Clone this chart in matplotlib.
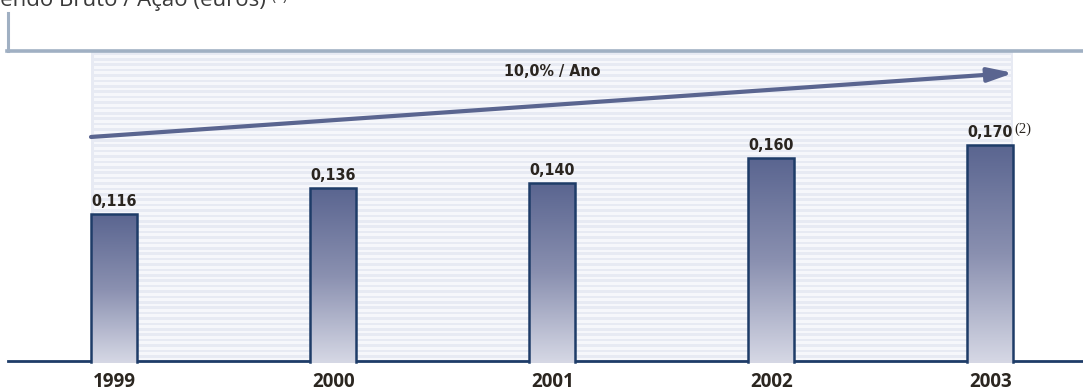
import matplotlib.pyplot as plt
import numpy as np

years = ['1999', '2000', '2001', '2002', '2003']
values = [0.116, 0.136, 0.140, 0.160, 0.170]
value_labels = ['0,116', '0,136', '0,140', '0,160', '0,170']
trend_label = '10,0% / Ano'
trend_start = 0.1764
trend_end = 0.2268
title = 'Dividendo Bruto / Ação (euros)'

navy = '#1e3c68'
slate = '#5a6590'
bar_font = ['DejaVu Sans']
year_font = ['Open Sans', 'DejaVu Sans']

fig = plt.figure(figsize=(10.83, 3.90), dpi=100)
ax = fig.add_axes([0, 0, 1, 1])
ax.set_xlim(-0.5203, 4.4224)
ax.set_ylim(-0.02283, 0.28425)
ax.axis('off')

x = np.arange(len(years))
bw = 0.21

# striped background behind the bars
stripe_top = 0.2433
x0, x1 = x[0] - bw / 2, x[-1] + bw / 2
ax.fill_between([x0, x1], 0, stripe_top, color='#e7eaf3', lw=0, zorder=0)
step = 5.4 / 1270
for y in np.arange(stripe_top - step * 0.6, 0, -step):
    ax.fill_between([x0 + 0.012, x1 - 0.012], y - step / 2, y, color='#f6f7fb', lw=0, zorder=0)

# baseline
ax.axhline(0, xmin=8 / 1083, xmax=1, color=navy, lw=2, zorder=1)

# bars with vertical gradient
bars = ax.bar(x, values, width=bw, color='none', edgecolor='none', zorder=2)
grad = np.linspace(0, 1, 256).reshape(-1, 1)
cmap = plt.matplotlib.colors.LinearSegmentedColormap.from_list('g', [slate, '#8a90b0', '#d6d8e5'])
for b in bars:
    bx, bh = b.get_x(), b.get_height()
    ax.imshow(grad, cmap=cmap, aspect='auto', extent=[bx, bx + bw, -0.0012, bh],
              origin='upper', zorder=3, interpolation='bilinear')
    ax.plot([bx, bx, bx + bw, bx + bw], [-0.0008, bh, bh, -0.0008], color=navy, lw=1.8,
            zorder=4, solid_joinstyle='miter')

# value labels
for xi, v, lab in zip(x, values, value_labels):
    t = ax.annotate(lab, (xi, v), xytext=(0, 3.5), textcoords='offset points',
                    ha='center', va='bottom', fontsize=11.5, fontweight='bold',
                    family=bar_font, fontstretch='condensed', color='#2a2520', zorder=5)
last = t
ax.annotate('(2)', xy=(1, 1), xycoords=last, xytext=(0.5, 2), textcoords='offset points',
            ha='left', va='top', fontsize=10.5, family=['Liberation Serif', 'DejaVu Serif'],
            color='#2a2520')

# year labels
for xi, yr in zip(x, years):
    ax.annotate(yr, (xi, 0), xytext=(0, -18.8), textcoords='offset points', ha='center',
                va='baseline', fontsize=13.5, fontweight='bold', family=year_font, color='#2b2620')

# trend arrow
ax.annotate('', xy=(x1, trend_end), xytext=(x0, trend_start),
            arrowprops=dict(arrowstyle='-|>,head_length=1.5,head_width=0.42', color=slate,
                            lw=3, shrinkA=0, shrinkB=0), zorder=5)
ax.text(np.mean(x), 0.2276, trend_label, ha='center', va='center', fontsize=11.5,
        fontweight='bold', family=bar_font, fontstretch='condensed', color='#2a2520', zorder=5)

# title (cut at top) and bracket
fig.text(266 / 1083, 1 - 6 / 390, title, ha='right', va='baseline', fontsize=16,
         family=year_font, color='#3a3a3a')
fig.text(271 / 1083, 1 - 0 / 390, '(1)', ha='left', va='baseline', fontsize=10,
         family=year_font, color='#3a3a3a')
fig.add_artist(plt.Line2D([8 / 1083, 8 / 1083], [1 - 13 / 390, 1 - 51 / 390], color='#a0b0c3', lw=2.2))
fig.add_artist(plt.Line2D([7 / 1083, 1], [1 - 50.5 / 390, 1 - 50.5 / 390], color='#a0b0c3', lw=2.6))

fig.savefig('out.png', dpi=100)
